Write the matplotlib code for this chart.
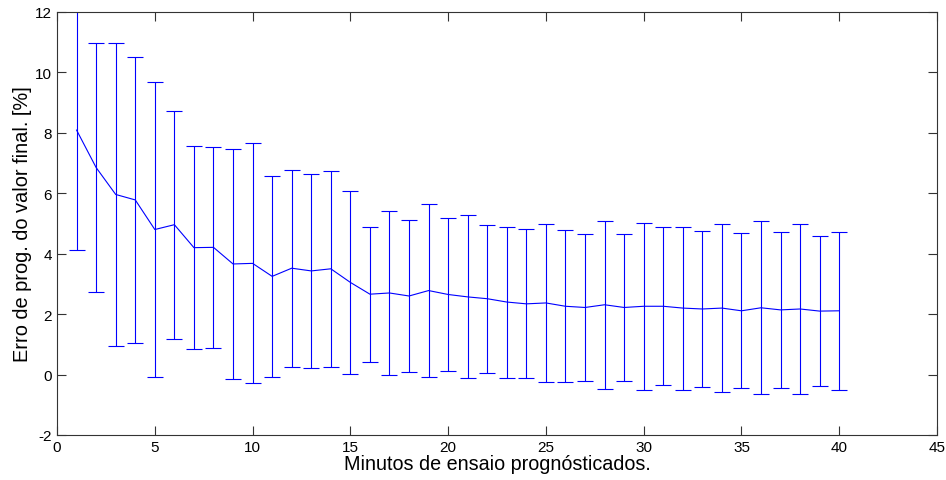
import numpy as np
import matplotlib
matplotlib.use("Agg")
import matplotlib.pyplot as plt

plt.rcParams['font.family'] = ['Liberation Sans', 'DejaVu Sans']
plt.rcParams['axes.unicode_minus'] = False

minutos = np.arange(1, 41)
erro_medio = [8.09, 6.85, 5.96, 5.78, 4.80, 4.96, 4.20, 4.21, 3.66, 3.68,
              3.25, 3.52, 3.43, 3.50, 3.05, 2.66, 2.70, 2.60, 2.78, 2.65,
              2.57, 2.51, 2.40, 2.34, 2.37, 2.26, 2.22, 2.31, 2.22, 2.26,
              2.26, 2.20, 2.17, 2.20, 2.11, 2.21, 2.14, 2.17, 2.10, 2.11]
desvio = [3.96, 4.12, 5.01, 4.72, 4.88, 3.77, 3.35, 3.32, 3.82, 3.97,
          3.33, 3.26, 3.20, 3.25, 3.02, 2.23, 2.71, 2.53, 2.85, 2.54,
          2.70, 2.45, 2.50, 2.47, 2.60, 2.52, 2.43, 2.78, 2.43, 2.76,
          2.61, 2.70, 2.58, 2.77, 2.56, 2.86, 2.59, 2.80, 2.47, 2.61]

fig = plt.figure(figsize=(9.46, 4.81), dpi=100)
ax = fig.add_axes([0.0603, 0.0936, 0.9302, 0.8794])

ax.errorbar(minutos, erro_medio, yerr=desvio, color='#0000ff', lw=0.8,
            elinewidth=0.8, capsize=5.8, capthick=0.8)

ax.set_xlim(0, 45)
ax.set_ylim(-2, 12)
ax.set_xticks(np.arange(0, 46, 5))
ax.set_yticks(np.arange(-2, 13, 2))
ax.tick_params(direction='in', top=True, right=True, labelsize=11,
               length=6.5, width=0.8, color='#333333')
for s in ax.spines.values():
    s.set_linewidth(0.8)
    s.set_color('#333333')
ax.set_xlabel('Minutos de ensaio prognósticados.', fontsize=14.2, labelpad=0)
ax.set_ylabel('Erro de prog. do valor final. [%]', fontsize=14.4, labelpad=2)

fig.savefig('out.png', dpi=100)
